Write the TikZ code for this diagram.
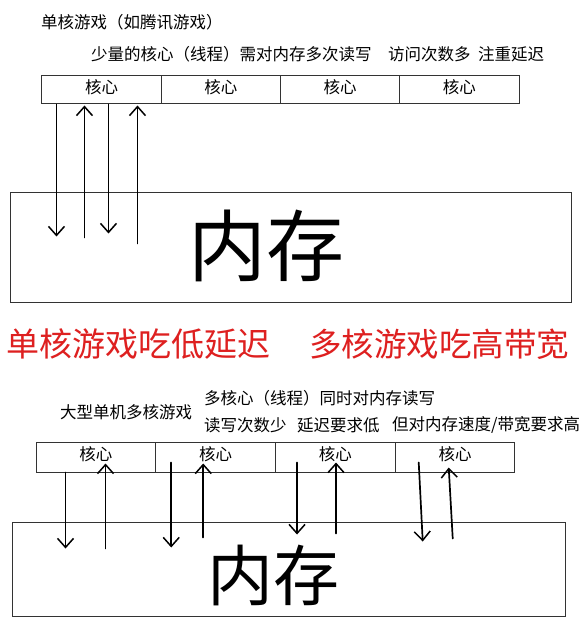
\documentclass[tikz,border=0pt]{standalone}
\usepackage{fontspec}
\newfontfamily\cjk{Noto Sans CJK SC}
\usetikzlibrary{arrows.meta}
\definecolor{hongse}{RGB}{222,32,32}
\tikzset{
	hexin/.style={draw=black!80, line width=1pt, inner sep=0pt, text height=14pt, text depth=7pt, font=\cjk\fontsize{16.5}{18}\selectfont},
	neicun/.style={draw=black!80, line width=1pt, inner sep=0pt},
	wenzi/.style={anchor=west, inner sep=0pt, font=\cjk\fontsize{16.5}{18}\selectfont},
	du/.style={-{Straight Barb[length=9pt,width=16pt,line width=1.5pt]}, line width=1.7pt, line cap=round},
}
\begin{document}
\begin{tikzpicture}[x=1pt,y=-1pt]
	\fill[white] (0,0) rectangle (580,636);
	\useasboundingbox (0,0) rectangle (580,636);
	
	% 单核游戏
	\node[wenzi] (t1) at (41,22) {单核游戏（如腾讯游戏）};					% 标题
	\node[wenzi] (t2) at (91,54) {少量的核心（线程）需对内存多次读写};
	\node[wenzi] (t3) at (388,54) {访问次数多};
	\node[wenzi] (t4) at (478,54) {注重延迟};
	\node[hexin, minimum width=119.25pt, minimum height=28pt] (c1) at (101.6,90) {核心};
	\node[hexin, minimum width=119.25pt, minimum height=28pt] (c2) at (220.9,90) {核心};
	\node[hexin, minimum width=119.25pt, minimum height=28pt] (c3) at (340.1,90) {核心};
	\node[hexin, minimum width=119.25pt, minimum height=28pt] (c4) at (459.4,90) {核心};
	\node[neicun, minimum width=561pt, minimum height=109pt] (m1) at (290.5,247.5) {};	% 内存
	\node[inner sep=0pt, font=\cjk\fontsize{78}{80}\selectfont] (n1) at (266,246) {内存};
	% 读写
	\draw[du] ([xshift=15pt]c1.south west) -- ++(0,132);
	\draw[du] ([xshift=43pt,yshift=-133pt]c1.south west) -- ([xshift=43pt,yshift=-1pt]c1.south west);
	\draw[du] ([xshift=67pt]c1.south west) -- ++(0,129);
	\draw[du] ([xshift=96pt,yshift=-139pt]c1.south west) -- ([xshift=96pt,yshift=-1pt]c1.south west);
	
	% 结论
	\node[anchor=west, inner sep=0pt, text=hongse, font=\cjk\fontsize{33}{36}\selectfont] (r1) at (6,344) {单核游戏吃低延迟};
	\node[anchor=west, inner sep=0pt, text=hongse, font=\cjk\fontsize{32.5}{36}\selectfont] (r2) at (309,344) {多核游戏吃高带宽};
	
	% 多核游戏
	\node[wenzi] (s1) at (60,412) {大型单机多核游戏};
	\node[wenzi] (s2) at (204,398) {多核心（线程）同时对内存读写};
	\node[wenzi] (s3) at (204,425) {读写次数少};
	\node[wenzi] (s4) at (297,425) {延迟要求低};
	\node[wenzi] (s5) at (392,425) {但对内存速度/带宽要求高};
	\node[hexin, minimum width=119.75pt, minimum height=30pt] (d1) at (95.9,457) {核心};
	\node[hexin, minimum width=119.75pt, minimum height=30pt] (d2) at (215.6,457) {核心};
	\node[hexin, minimum width=119.75pt, minimum height=30pt] (d3) at (335.4,457) {核心};
	\node[hexin, minimum width=119.75pt, minimum height=30pt] (d4) at (455.1,457) {核心};
	\node[neicun, minimum width=553pt, minimum height=94pt] (m2) at (288.5,569) {};		% 内存
	\node[inner sep=0pt, font=\cjk\fontsize{66}{68}\selectfont] (n2) at (273,575) {内存};
	% 读写
	\draw[du] ([xshift=30pt]d1.south west) -- ++(0,76);
	\draw[du] ([xshift=70pt,yshift=-76pt]d1.south west) -- ([xshift=70pt,yshift=9pt]d1.south west);
	\draw[du] ([xshift=16pt,yshift=10pt]d2.south west) -- ++(0,85);
	\draw[du] ([xshift=48pt,yshift=-65pt]d2.south west) -- ([xshift=48pt,yshift=9pt]d2.south west);
	\draw[du] ([xshift=22pt,yshift=10pt]d3.south west) -- ++(0,72);
	\draw[du] ([xshift=61pt,yshift=-61pt]d3.south west) -- ([xshift=61pt,yshift=10pt]d3.south west);
	\draw[du] ([xshift=24pt,yshift=10pt]d4.south west) -- ++(4,79);
	\draw[du] ([xshift=58pt,yshift=-66pt]d4.south west) -- ([xshift=54pt,yshift=5pt]d4.south west);
\end{tikzpicture}
\end{document}
